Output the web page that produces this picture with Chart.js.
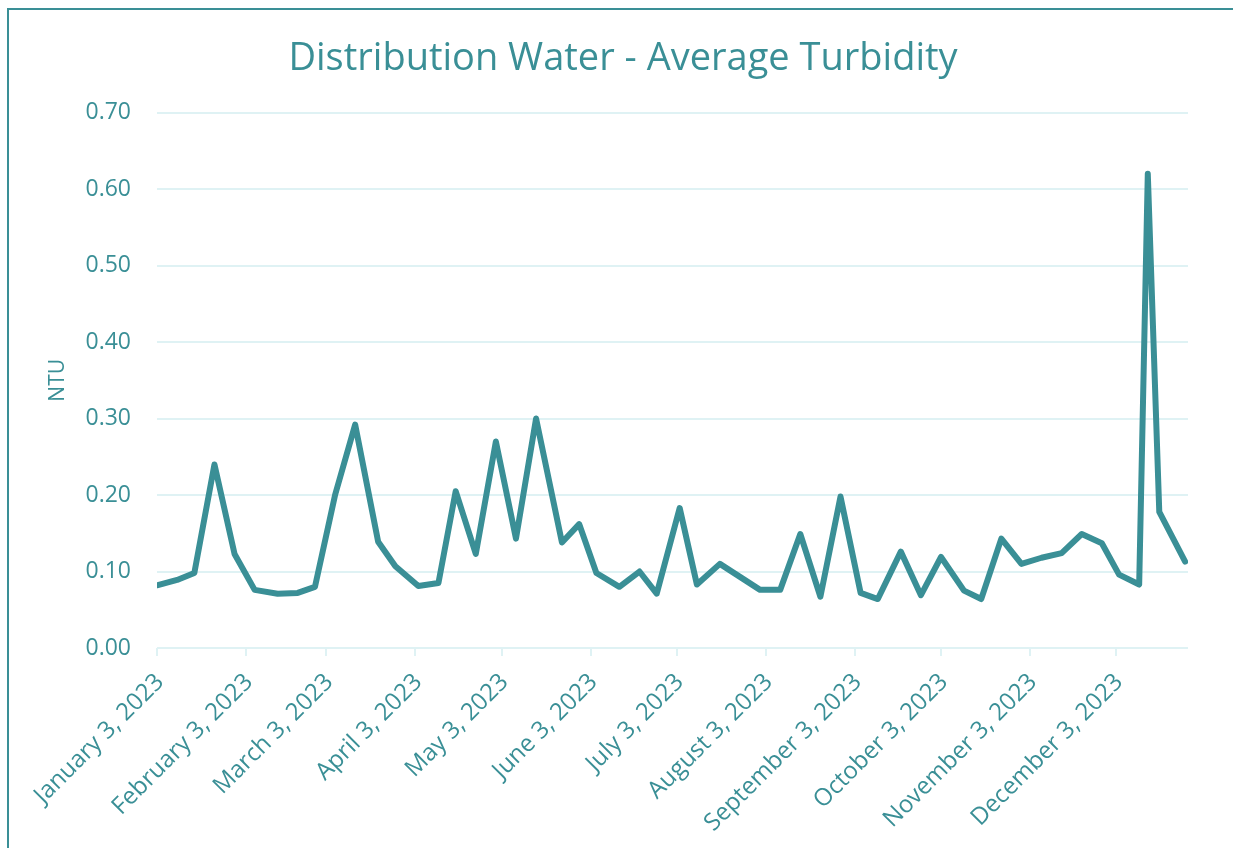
<html>
<head>
<meta charset="utf-8">
<script src="https://cdn.jsdelivr.net/npm/chart.js"></script>
<style>
  body { margin:0; overflow:hidden; background:#fff; }
  #frame { position:absolute; left:7px; top:8px; width:1300px; height:900px; border:2px solid #3a8f96; }
  #c { position:absolute; left:0; top:0; }
</style>
</head>
<body>
<div id="frame"></div>
<canvas id="c" width="1233" height="848"></canvas>
<script>
// weekly sample dates and average turbidity (NTU)
var dates = ['2023-01-03','2023-01-10','2023-01-16','2023-01-23','2023-01-30','2023-02-06','2023-02-14','2023-02-21','2023-02-27',
  '2023-03-06','2023-03-13','2023-03-21','2023-03-27','2023-04-04','2023-04-11','2023-04-17','2023-04-24','2023-05-01','2023-05-08',
  '2023-05-15','2023-05-24','2023-05-30','2023-06-05','2023-06-13','2023-06-20','2023-06-26','2023-07-04','2023-07-10','2023-07-18',
  '2023-07-25','2023-08-01','2023-08-08','2023-08-15','2023-08-22','2023-08-29','2023-09-05','2023-09-11','2023-09-19','2023-09-26',
  '2023-10-03','2023-10-11','2023-10-17','2023-10-24','2023-10-31','2023-11-07','2023-11-14','2023-11-21','2023-11-28','2023-12-04',
  '2023-12-11','2023-12-14','2023-12-18','2023-12-27'];
var turbidity = [0.082,0.089,0.098,0.240,0.123,0.076,0.071,0.072,0.080,
  0.200,0.292,0.139,0.107,0.081,0.085,0.205,0.123,0.270,0.143,
  0.300,0.138,0.162,0.098,0.080,0.100,0.071,0.183,0.083,0.110,
  0.093,0.076,0.076,0.149,0.067,0.198,0.072,0.064,0.126,0.069,
  0.119,0.075,0.064,0.143,0.110,0.118,0.124,0.149,0.137,0.096,
  0.083,0.620,0.178,0.113];
var tickDates = ['2023-01-03','2023-02-03','2023-03-03','2023-04-03','2023-05-03','2023-06-03',
  '2023-07-03','2023-08-03','2023-09-03','2023-10-03','2023-11-03','2023-12-03'];
var tickLabels = ['January 3, 2023','February 3, 2023','March 3, 2023','April 3, 2023','May 3, 2023','June 3, 2023',
  'July 3, 2023','August 3, 2023','September 3, 2023','October 3, 2023','November 3, 2023','December 3, 2023'];
var yTicks = [0, 0.1, 0.2, 0.3, 0.4, 0.5, 0.6, 0.7];

function dayOf(s){
  var p = s.split('-');
  return (Date.UTC(+p[0], p[1]-1, +p[2]) - Date.UTC(2023,0,1)) / 864e5;
}

var teal = '#3a8f96';
var gridColor = '#dff2f4';
var pts = dates.map(function(d,i){ return {x: dayOf(d), y: turbidity[i]}; });
var tickDays = tickDates.map(dayOf);

var ctx = document.getElementById('c').getContext('2d');
new Chart(ctx, {
  type: 'line',
  data: {
    datasets: [{
      data: pts,
      borderColor: teal,
      borderWidth: 6,
      borderJoinStyle: 'round',
      borderCapStyle: 'round',
      pointRadius: 0,
      tension: 0,
      fill: false
    }]
  },
  options: {
    responsive: false,
    devicePixelRatio: 1,
    animation: false,
    layout: { padding: { left: 58, right: 45, top: 0, bottom: 0 } },
    plugins: {
      legend: { display: false },
      tooltip: { enabled: false },
      title: {
        display: true,
        text: 'Distribution Water - Average Turbidity',
        color: teal,
        font: { family: 'Open Sans', size: 38, weight: 'normal' },
        padding: { top: 36, bottom: 31 }
      }
    },
    scales: {
      x: {
        type: 'linear',
        min: tickDays[0],
        max: 361,
        afterBuildTicks: function(s){ s.ticks = tickDays.map(function(v){ return {value: v}; }); },
        afterFit: function(s){ s.height = 200; },
        grid: { drawOnChartArea: false, drawTicks: true, tickLength: 8, color: gridColor, lineWidth: 2 },
        border: { display: false },
        ticks: {
          autoSkip: false, minRotation: 45, maxRotation: 45, padding: 12, labelOffset: 3,
          color: teal, font: { family: 'Open Sans', size: 24 },
          callback: function(v){ var i = tickDays.indexOf(v); return i >= 0 ? tickLabels[i] : ''; }
        }
      },
      y: {
        min: 0,
        max: 0.7,
        afterBuildTicks: function(s){ s.ticks = yTicks.map(function(v){ return {value: v}; }); },
        afterFit: function(s){ s.width = 99; },
        grid: { drawTicks: false, color: gridColor, lineWidth: 2 },
        border: { display: false },
        ticks: {
          padding: 26, color: teal, font: { family: 'Open Sans', size: 23 },
          callback: function(v){ return v.toFixed(2); }
        },
        title: {
          display: true, text: 'NTU', color: teal,
          font: { family: 'Open Sans', size: 21 },
          padding: { top: -13, bottom: 0 }
        }
      }
    }
  }
});
</script>
</body>
</html>
